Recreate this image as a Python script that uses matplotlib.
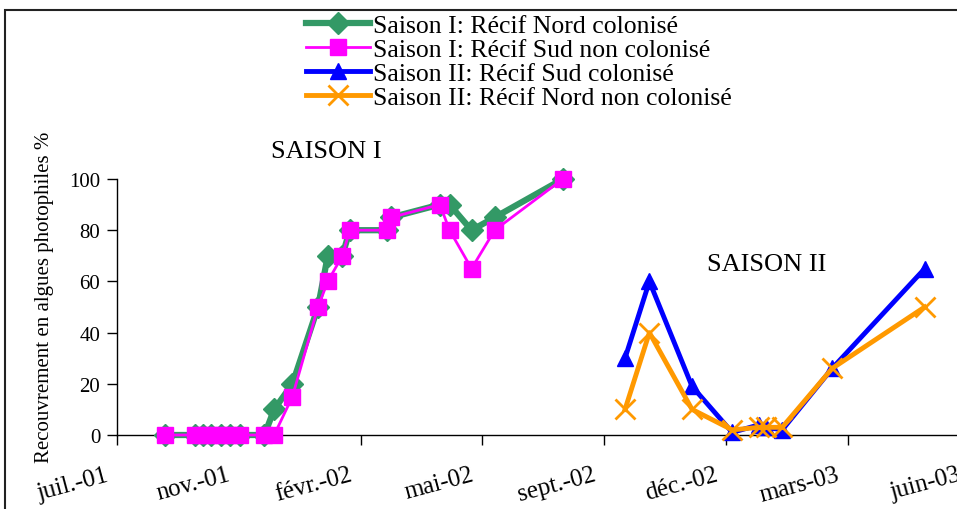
import matplotlib
matplotlib.use("Agg")
import matplotlib.pyplot as plt
import matplotlib.dates as mdates
import matplotlib.transforms as mtransforms
from matplotlib.patches import Rectangle
from matplotlib.ticker import FixedLocator, FuncFormatter
from datetime import date, timedelta

plt.rcParams['font.family'] = ['Liberation Serif', 'DejaVu Serif']

# Saison I (dates de relevé et recouvrement %)
dates_s1 = ["2001-09-07", "2001-10-02", "2001-10-09", "2001-10-15", "2001-10-23",
            "2001-10-31", "2001-11-08", "2001-11-28", "2001-12-06", "2001-12-21",
            "2002-01-11", "2002-01-19", "2002-01-31", "2002-02-06", "2002-03-09",
            "2002-03-12", "2002-04-21", "2002-04-29", "2002-05-17", "2002-06-05",
            "2002-07-31"]
nord_colonise_s1 = [0, 0, 0, 0, 0, 0, 0, 0, 10, 20, 50, 70, 70, 80, 80, 85, 90, 90, 80, 85, 100]
sud_non_colonise_s1 = [0, 0, 0, 0, 0, 0, 0, 0, 0, 15, 50, 60, 70, 80, 80, 85, 90, 80, 65, 80, 100]

# Saison II
dates_s2 = ["2002-09-20", "2002-10-10", "2002-11-14", "2002-12-17", "2003-01-08",
            "2003-01-14", "2003-01-27", "2003-03-09", "2003-05-24"]
sud_colonise_s2 = [30, 60, 19, 1, 4, 3, 2, 26, 65]
nord_non_colonise_s2 = [10, 40, 10, 2, 3, 3, 3, 26, 50]

mois = ["janv.", "févr.", "mars", "avr.", "mai", "juin",
        "juil.", "août", "sept.", "oct.", "nov.", "déc."]

def to_dates(lst):
    return [date.fromisoformat(d) for d in lst]

x1 = to_dates(dates_s1)
x2 = to_dates(dates_s2)

fig = plt.figure(figsize=(9.57, 5.10), dpi=100)
ax = fig.add_axes([117/957, 74/510, 865/957, 256/510])

ax.plot(x1, nord_colonise_s1, color="#339966", lw=4.5, marker="D", ms=11,
        label="Saison I: Récif Nord colonisé", clip_on=False, zorder=3)
ax.plot(x1, sud_non_colonise_s1, color="#FF00FF", lw=2, marker="s", ms=11,
        label="Saison I: Récif Sud non colonisé", clip_on=False, zorder=4)
ax.plot(x2, sud_colonise_s2, color="#0000FF", lw=3.5, marker="^", ms=12,
        label="Saison II: Récif Sud colonisé", clip_on=False, zorder=3)
ax.plot(x2, nord_non_colonise_s2, color="#FF9900", lw=3.5, marker="x", ms=15, mew=2,
        label="Saison II: Récif Nord non colonisé", clip_on=False, zorder=4)

start = date(2001, 7, 30)
ticks = [mdates.date2num(start + timedelta(days=100 * k)) for k in range(8)]
ax.set_xlim(mdates.date2num(start), mdates.date2num(start + timedelta(days=710)))
ax.set_ylim(0, 100)
ax.xaxis.set_major_locator(FixedLocator(ticks))

def fmt(v, pos):
    d = mdates.num2date(v)
    return f"{mois[d.month - 1]}-{d.strftime('%y')}"

ax.xaxis.set_major_formatter(FuncFormatter(fmt))
ax.set_yticks([0, 20, 40, 60, 80, 100])
ax.tick_params(axis="both", direction="out", length=7, width=1)
ax.tick_params(axis="y", labelsize=15, pad=5)
ax.tick_params(axis="x", labelsize=18, pad=13.5)

# labels slanted, shifted a little to the left of their tick
shift = mtransforms.ScaledTranslation(-12 / 100, 0, fig.dpi_scale_trans)
for lab in ax.get_xticklabels():
    lab.set_rotation(15)
    lab.set_ha("right")
    lab.set_va("top")
    lab.set_rotation_mode("anchor")
    lab.set_transform(lab.get_transform() + shift)

for s in ["top", "right"]:
    ax.spines[s].set_visible(False)
ax.spines["left"].set_linewidth(1)
ax.spines["bottom"].set_linewidth(1)

ax.set_ylabel("Recouvrement en algues photophiles %", fontsize=15)
ax.yaxis.set_label_coords(-0.073, 0.543)

fig.text(326/957, 1 - 152/510, "SAISON I", fontsize=19, ha="center", va="center")
fig.text(767/957, 1 - 265/510, "SAISON II", fontsize=19, ha="center", va="center")

fig.legend(loc="upper center", bbox_to_anchor=(0.542, 1.004), frameon=False,
           fontsize=18.5, handlelength=2.5, handletextpad=0.1, labelspacing=0.04,
           borderpad=0.15)

fig.add_artist(Rectangle((5/957, -0.1), 1.2, 1 - 11/510 + 0.1, transform=fig.transFigure,
                         fill=False, edgecolor="#222222", lw=1.5))

plt.savefig("out.png", dpi=100)
